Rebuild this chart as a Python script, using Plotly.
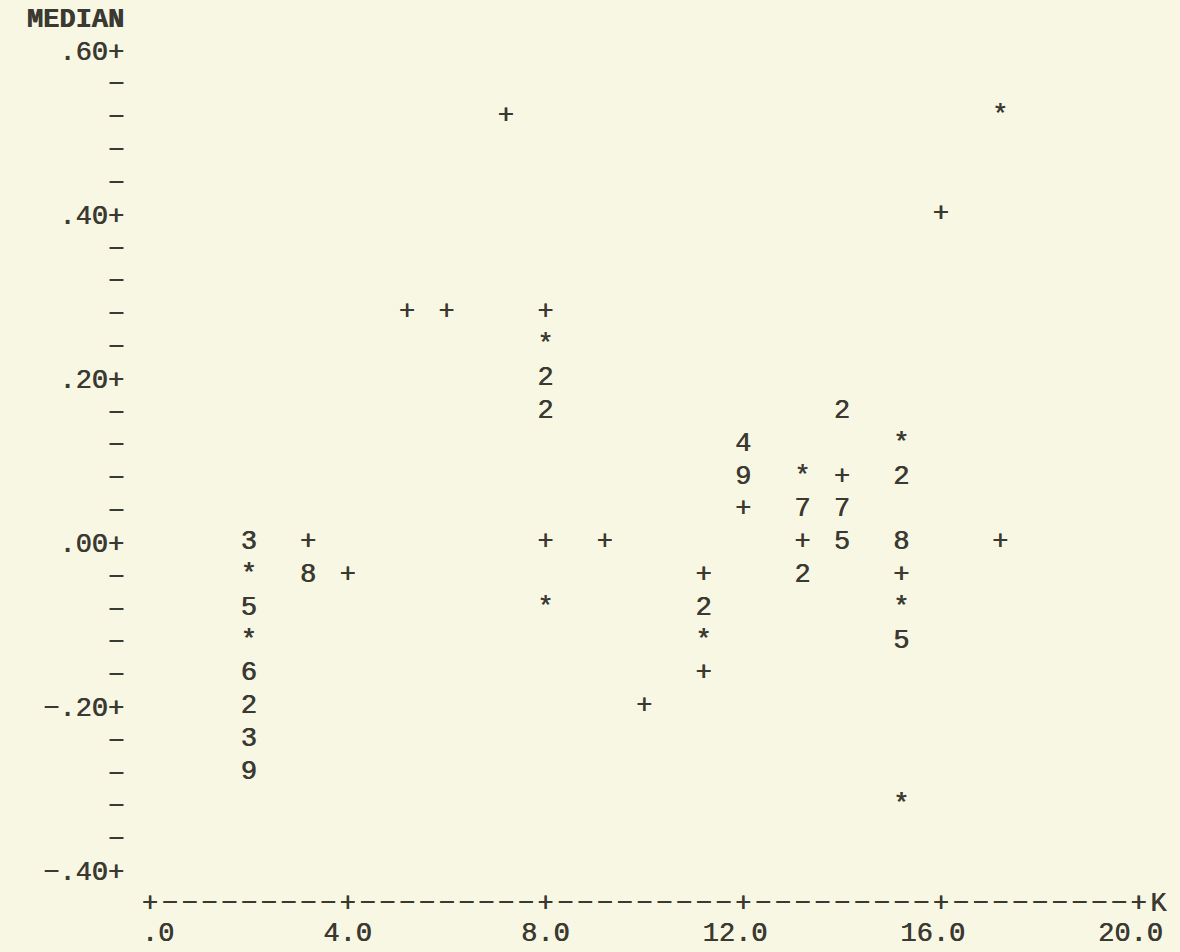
import plotly.graph_objects as go

# ---- data ----
x_vals = [2.0, 2.0, 2.0, 2.0, 2.0, 2.0, 2.0, 2.0,
          3.2, 3.2, 4.0, 5.2, 6.0, 7.2,
          8.0, 8.0, 8.0, 8.0, 8.0, 8.0,
          9.2, 10.0,
          11.2, 11.2, 11.2, 11.2,
          12.0, 12.0, 12.0,
          13.2, 13.2, 13.2, 13.2,
          14.0, 14.0, 14.0, 14.0,
          15.2, 15.2, 15.2, 15.2, 15.2, 15.2, 15.2,
          16.0, 17.2, 17.2]
y_vals = [0.00, -0.04, -0.08, -0.12, -0.16, -0.20, -0.24, -0.28,
          0.00, -0.04, -0.04, 0.28, 0.28, 0.52,
          0.28, 0.24, 0.20, 0.16, 0.00, -0.08,
          0.00, -0.20,
          -0.04, -0.08, -0.12, -0.16,
          0.12, 0.08, 0.04,
          0.08, 0.04, 0.00, -0.04,
          0.16, 0.08, 0.04, 0.00,
          0.12, 0.08, 0.00, -0.04, -0.08, -0.12, -0.32,
          0.40, 0.52, 0.00]
symbols = ["3", "*", "5", "*", "6", "2", "3", "9",
           "+", "8", "+", "+", "+", "+",
           "+", "*", "2", "2", "+", "*",
           "+", "+",
           "+", "2", "*", "+",
           "4", "9", "+",
           "*", "7", "+", "2",
           "2", "+", "7", "5",
           "*", "2", "8", "+", "*", "5", "*",
           "+", "*", "+"]

y_major = [-0.40, -0.20, 0.00, 0.20, 0.40, 0.60]
y_major_labels = ["\u2212.40+", "\u2212.20+", ".00+", ".20+", ".40+", ".60+"]
y_minor_step = 0.04
y_title = "MEDIAN"

x_major = [0.0, 4.0, 8.0, 12.0, 16.0, 20.0]
x_major_labels = [".0", "4.0", "8.0", "12.0", "16.0", "20.0"]
x_minor_step = 0.4
x_title = "K"

# ---- style ----
FONT = "Liberation Mono, Courier New, monospace"
SIZE = 27
INK = "#3a3932"
PAPER = "#f8f7e3"
SHADOW = "0.6px 0px 0px " + INK
DASH = "\u2212"

# y axis ticks: "+" labels at majors, dash at every row, title one row above
y_tickvals, y_ticktext = [], []
n_rows = int(round((y_major[-1] - y_major[0]) / y_minor_step))
for i in range(n_rows + 1):
    v = round(y_major[0] + i * y_minor_step, 2)
    y_tickvals.append(v)
    if v in y_major:
        y_ticktext.append(y_major_labels[y_major.index(v)])
    else:
        y_ticktext.append(DASH)
y_tickvals.append(round(y_major[-1] + y_minor_step, 2))
y_ticktext.append("<b>" + y_title + "</b>")

# x axis line: "+" at majors, dash every column, title one column after end
x_tickvals, x_ticktext = [], []
n_cols = int(round((x_major[-1] - x_major[0]) / x_minor_step))
for i in range(n_cols + 1):
    v = round(x_major[0] + i * x_minor_step, 1)
    x_tickvals.append(v)
    x_ticktext.append("+" if v in x_major else DASH)
x_tickvals.append(round(x_major[-1] + x_minor_step, 1))
x_ticktext.append(x_title)

# number labels: pad so the decimal point sits on the tick
NB = "\u00a0"
x_num_text = []
for s in x_major_labels:
    k = s.index(".")
    d = k - (len(s) - k - 1)
    x_num_text.append(s + NB * d if d > 0 else NB * (-d) + s)

fig = go.Figure()
fig.add_trace(go.Scatter(
    x=x_vals, y=y_vals, text=symbols, mode="text",
    textposition="middle center",
    textfont=dict(family=FONT, size=SIZE, color=INK, shadow=SHADOW),
    hoverinfo="skip", showlegend=False,
))
fig.add_trace(go.Scatter(
    x=x_major, y=[y_major[0]] * len(x_major), xaxis="x2", mode="markers",
    marker=dict(opacity=0), hoverinfo="skip", showlegend=False,
))

tickfont = dict(family=FONT, size=SIZE, color=INK, shadow=SHADOW)
fig.update_layout(
    width=1180, height=952,
    margin=dict(l=130, r=2, t=1, b=65),
    paper_bgcolor=PAPER, plot_bgcolor=PAPER,
    showlegend=False,
    xaxis=dict(range=[-0.4, 20.8], tickmode="array", tickvals=x_tickvals,
               ticktext=x_ticktext, tickangle=0, ticks="", showgrid=False,
               zeroline=False, showline=False, tickfont=tickfont,
               automargin=False, ticklabelstandoff=-4),
    xaxis2=dict(range=[-0.4, 20.8], overlaying="x", anchor="y", side="bottom",
                tickmode="array", tickvals=x_major, ticktext=x_num_text,
                tickangle=0, ticks="", showgrid=False, zeroline=False,
                showline=False, tickfont=tickfont, automargin=False,
                ticklabelstandoff=26),
    yaxis=dict(range=[-0.42, 0.66], tickmode="array", tickvals=y_tickvals,
               ticktext=y_ticktext, ticks="", showgrid=False, zeroline=False,
               showline=False, tickfont=tickfont, automargin=False,
               ticklabelstandoff=5),
)

fig.write_html(
    "out.html",
    config={"displayModeBar": False, "staticPlot": True},
    post_script="document.body.style.margin='0px';document.body.style.overflow='hidden';document.body.style.background='" + PAPER + "';",
)
